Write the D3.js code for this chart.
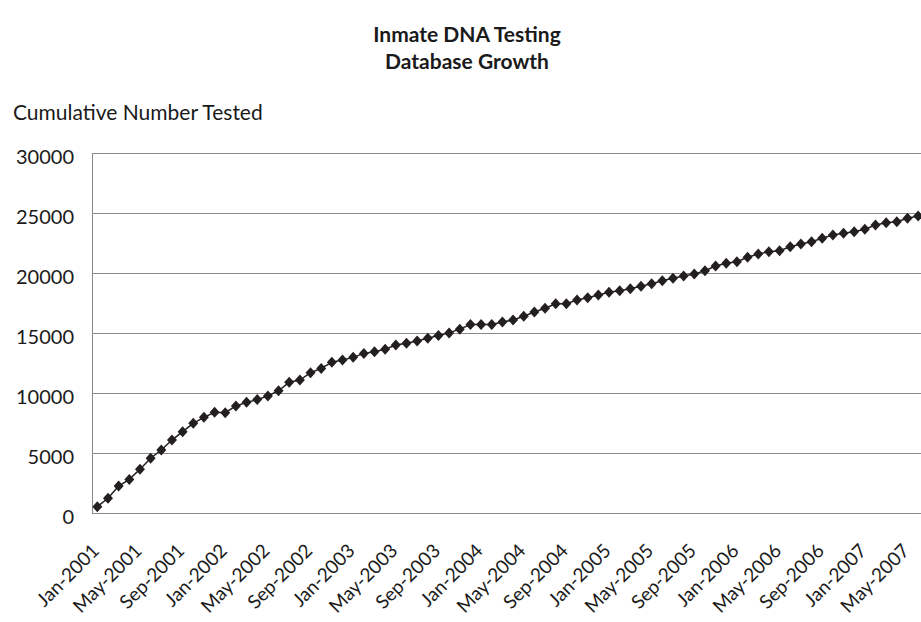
<!DOCTYPE html>
<html>
<head>
<meta charset="utf-8">
<script src="https://cdn.jsdelivr.net/npm/d3@7"></script>
<style>
  body { margin: 0; background: #fff; }
  text { font-family: "Lato", "Open Sans", sans-serif; fill: #1a1a1a; }
</style>
</head>
<body>
<div id="container"></div>
<script>
// Month labels, Jan-2001 through Jun-2007
var monthNames = ["Jan", "Feb", "Mar", "Apr", "May", "Jun", "Jul", "Aug", "Sep", "Oct", "Nov", "Dec"];
var months = [];
for (var yr = 2001; yr <= 2007; yr++) {
  for (var m = 0; m < 12; m++) {
    if (yr == 2007 && m > 5) break;
    months.push(monthNames[m] + "-" + yr);
  }
}

// Cumulative number tested
var tested = [
  525, 1225, 2250, 2800, 3640, 4560, 5250, 6080, 6780, 7470, 7970, 8390,
  8360, 8920, 9220, 9450, 9750, 10190, 10890, 11080, 11690, 12050, 12560, 12750,
  12970, 13300, 13440, 13640, 14000, 14140, 14330, 14560, 14790, 15010, 15320, 15700,
  15700, 15700, 15910, 16080, 16390, 16750, 17060, 17440, 17440, 17750, 17930, 18170,
  18400, 18520, 18680, 18900, 19100, 19360, 19560, 19750, 19920, 20190, 20580, 20810,
  20940, 21310, 21580, 21780, 21860, 22190, 22420, 22610, 22890, 23170, 23310, 23440,
  23640, 24000, 24190, 24280, 24560, 24750
];

var yTicks = [0, 5000, 10000, 15000, 20000, 25000, 30000];

// Set width and height
var width = 921,
    height = 622;

var margin = {top: 153, right: 0, bottom: 109, left: 92};

var svg = d3.select("#container")
            .append("svg")
              .attr("width", width)
              .attr("height", height);

// Scales
var x = d3.scaleBand()
          .domain(months)
          .range([margin.left, margin.left + months.length * 10.66]);

var y = d3.scaleLinear()
          .domain([0, 30000])
          .range([height - margin.bottom, margin.top]);

// Gridlines
svg.selectAll(".grid")
    .data(yTicks)
    .enter()
    .append("line")
      .attr("x1", margin.left)
      .attr("x2", width)
      .attr("y1", function(d) { return y(d) + 0.5; })
      .attr("y2", function(d) { return y(d) + 0.5; })
      .attr("stroke", "#8a8a8a")
      .attr("stroke-width", 1);

// Left axis line
svg.append("line")
    .attr("x1", margin.left + 0.5)
    .attr("x2", margin.left + 0.5)
    .attr("y1", y(30000))
    .attr("y2", y(0))
    .attr("stroke", "#8a8a8a");

// Y tick labels
svg.selectAll(".ylab")
    .data(yTicks)
    .enter()
    .append("text")
      .attr("x", 74)
      .attr("y", function(d) { return y(d); })
      .attr("dy", "0.55em")
      .attr("text-anchor", "end")
      .style("font-size", "20px")
      .text(function(d) { return d; });

// X tick labels, every 4th month
var shown = months.filter(function(d, i) { return i % 4 == 0; });
svg.selectAll(".xlab")
    .data(shown)
    .enter()
    .append("text")
      .attr("text-anchor", "end")
      .attr("transform", function(d) {
        return "translate(" + (x(d) + x.bandwidth() / 2 + 3) + "," + 552 + ") rotate(-45)";
      })
      .style("font-size", "19px")
      .text(function(d) { return d; });

// Line
var line = d3.line()
             .x(function(d, i) { return x(months[i]) + x.bandwidth() / 2; })
             .y(function(d) { return y(d); });

svg.append("path")
    .datum(tested)
    .attr("d", line)
    .attr("fill", "none")
    .attr("stroke", "#231f20")
    .attr("stroke-width", 1.5);

// Diamond markers
svg.selectAll(".pt")
    .data(tested)
    .enter()
    .append("path")
      .attr("d", "M0,-5.5L5,0L0,5.5L-5,0Z")
      .attr("transform", function(d, i) {
        return "translate(" + (x(months[i]) + x.bandwidth() / 2) + "," + y(d) + ")";
      })
      .attr("fill", "#231f20");

// Titles
svg.append("text")
    .attr("x", 467)
    .attr("y", 42)
    .attr("text-anchor", "middle")
    .style("font-size", "21px")
    .style("font-weight", "bold")
    .text("Inmate DNA Testing");

svg.append("text")
    .attr("x", 467)
    .attr("y", 69)
    .attr("text-anchor", "middle")
    .style("font-size", "21px")
    .style("font-weight", "bold")
    .text("Database Growth");

svg.append("text")
    .attr("x", 13)
    .attr("y", 120)
    .style("font-size", "21px")
    .text("Cumulative Number Tested");
</script>
</body>
</html>
